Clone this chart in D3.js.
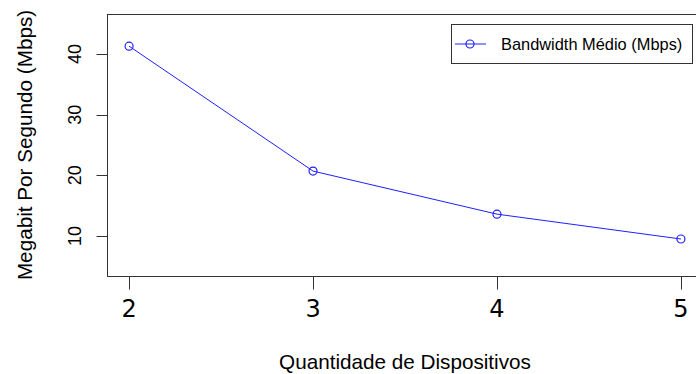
<!DOCTYPE html>
<html>
<head>
<meta charset="utf-8">
<script src="https://cdn.jsdelivr.net/npm/d3@7"></script>
<style>
  body { margin: 0; background: #fff; }
  text { font-family: "Liberation Sans", Arial, sans-serif; fill: #000; }
</style>
</head>
<body>
<svg id="chart" width="696" height="374"></svg>
<script>
// values
const devices = [2, 3, 4, 5];
const bandwidth = [41.3, 20.7, 13.6, 9.5];
const yTicks = [10, 20, 30, 40];
const legendLabel = "Bandwidth Médio (Mbps)";

const svg = d3.select("#chart");

// R style: limits padded by 4%
const x = d3.scaleLinear().domain([1.88, 5.12]).range([107, 703]);
const y = d3.scaleLinear().domain([3.4, 46.6]).range([276, 14]);

// plot box
svg.append("rect")
  .attr("x", 107.5).attr("y", 14.5)
  .attr("width", 703 - 107).attr("height", 276 - 14)
  .attr("fill", "none").attr("stroke", "#333").attr("stroke-width", 1);

// y axis
const yAxis = svg.append("g").attr("transform", "translate(107.5,0)");
yAxis.append("line")
  .attr("y1", y(yTicks[0])).attr("y2", y(yTicks[yTicks.length - 1]))
  .attr("stroke", "#333");
yAxis.selectAll(".tick").data(yTicks).enter().append("line")
  .attr("x1", 0).attr("x2", -11)
  .attr("y1", d => Math.round(y(d)) + 0.5).attr("y2", d => Math.round(y(d)) + 0.5)
  .attr("stroke", "#333");
yAxis.selectAll(".lab").data(yTicks).enter().append("text")
  .attr("transform", d => `translate(-27,${y(d)}) rotate(-90)`)
  .attr("text-anchor", "middle")
  .style("font-size", "18px")
  .text(d => d);

// x axis
const xAxis = svg.append("g").attr("transform", "translate(0,276.5)");
xAxis.append("line")
  .attr("x1", x(devices[0])).attr("x2", x(devices[devices.length - 1]))
  .attr("stroke", "#333");
xAxis.selectAll(".tick").data(devices).enter().append("line")
  .attr("x1", d => Math.round(x(d)) + 0.5).attr("x2", d => Math.round(x(d)) + 0.5)
  .attr("y1", 0).attr("y2", 13)
  .attr("stroke", "#333");
xAxis.selectAll(".lab").data(devices).enter().append("text")
  .attr("x", d => x(d)).attr("y", 40.5)
  .attr("text-anchor", "middle")
  .style("font-family", "'DejaVu Sans', sans-serif")
  .style("font-size", "24px")
  .text(d => d);

// axis titles
svg.append("text")
  .attr("x", (107 + 703) / 2).attr("y", 369)
  .attr("text-anchor", "middle")
  .style("font-size", "20.7px")
  .text("Quantidade de Dispositivos");

svg.append("text")
  .attr("transform", `translate(32,${(14 + 276) / 2}) rotate(-90)`)
  .attr("text-anchor", "middle")
  .style("font-size", "20.7px")
  .text("Megabit Por Segundo (Mbps)");

// series
const pts = devices.map((d, i) => [d, bandwidth[i]]);
svg.append("path")
  .attr("d", d3.line().x(d => x(d[0])).y(d => y(d[1]))(pts))
  .attr("fill", "none").attr("stroke", "#2020ff").attr("stroke-width", 1);
svg.selectAll(".pt").data(pts).enter().append("circle")
  .attr("cx", d => x(d[0])).attr("cy", d => y(d[1]))
  .attr("r", 4)
  .attr("fill", "none").attr("stroke", "#2020ff").attr("stroke-width", 1.2);

// legend
const lg = svg.append("g");
lg.append("rect")
  .attr("x", 451.5).attr("y", 24.5).attr("width", 241).attr("height", 39)
  .attr("fill", "#fff").attr("stroke", "#333");
lg.append("line")
  .attr("x1", 455).attr("x2", 486).attr("y1", 44).attr("y2", 44)
  .attr("stroke", "#2020ff");
lg.append("circle")
  .attr("cx", 470).attr("cy", 44).attr("r", 4)
  .attr("fill", "none").attr("stroke", "#2020ff").attr("stroke-width", 1.2);
lg.append("text")
  .attr("x", 501).attr("y", 50)
  .style("font-size", "16.4px")
  .text(legendLabel);
</script>
</body>
</html>
